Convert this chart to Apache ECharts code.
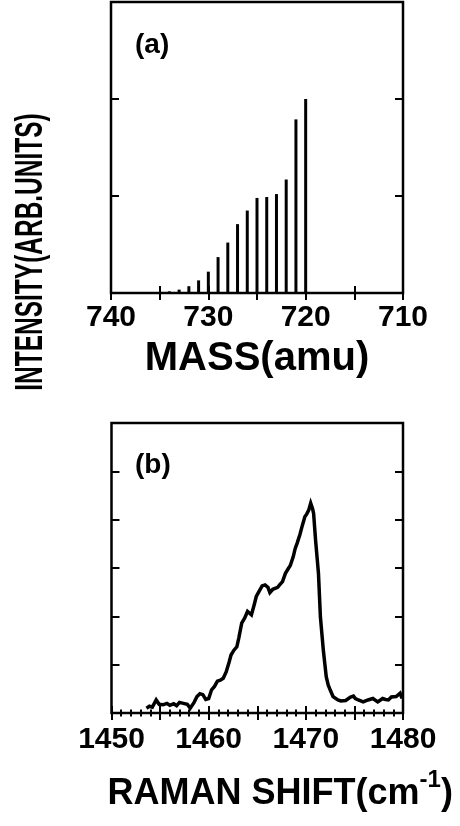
<!DOCTYPE html>
<html>
<head>
<meta charset="utf-8">
<script src="https://cdn.jsdelivr.net/npm/echarts@6.0.0/dist/echarts.min.js"></script>
<style>
html,body{margin:0;padding:0;background:#fff;}
#chart{width:460px;height:826px;}
</style>
</head>
<body>
<div id="chart"></div>
<script>
// ---- Data ----
// (a) mass spectrum
const massValues    = [720, 721, 722, 723, 724, 725, 726, 727, 728, 729, 730, 731, 732, 733, 734, 735];
const massIntensity = [2.00, 1.79, 1.17, 1.02, 0.99, 0.98, 0.85, 0.71, 0.52, 0.37, 0.22, 0.13, 0.07, 0.035, 0.017, 0.01];
const massTickLabels = [740, 730, 720, 710];

// (b) Raman spectrum
const ramanShift = [
  1453.6,1453.9,1454.2,1454.6,1454.9,1455.3,1455.7,1456.0,1456.4,1456.7,
  1457.0,1457.4,1457.8,1458.1,1458.5,1458.8,1459.1,1459.4,1459.7,1460.0,
  1460.3,1460.6,1460.9,1461.2,1461.5,1461.8,1462.1,1462.3,1462.6,1462.9,
  1463.1,1463.4,1463.7,1464.0,1464.2,1464.4,1464.7,1464.9,1465.2,1465.5,
  1465.8,1466.1,1466.3,1466.6,1466.8,1467.1,1467.3,1467.6,1467.9,1468.2,
  1468.4,1468.7,1468.9,1469.1,1469.4,1469.6,1469.9,1470.1,1470.3,1470.5,
  1470.7,1470.8,1471.0,1471.3,1471.5,1471.8,1472.1,1472.3,1472.5,1472.8,
  1473.0,1473.3,1473.6,1473.8,1474.1,1474.3,1474.6,1474.9,1475.1,1475.4,
  1475.6,1475.9,1476.1,1476.4,1476.6,1476.9,1477.1,1477.4,1477.6,1477.9,
  1478.2,1478.5,1478.8,1479.0,1479.3,1479.5,1479.7,1479.9
];
const ramanIntensity = [
  0.10,0.14,0.12,0.27,0.18,0.17,0.20,0.16,0.19,0.15,
  0.22,0.20,0.18,0.10,0.22,0.34,0.40,0.38,0.28,0.30,
  0.48,0.55,0.66,0.68,0.72,0.85,1.05,1.20,1.30,1.37,
  1.55,1.86,1.96,2.10,2.13,2.03,2.25,2.41,2.52,2.63,
  2.65,2.60,2.49,2.56,2.58,2.60,2.65,2.72,2.89,2.99,
  3.05,3.23,3.40,3.51,3.70,3.85,4.06,4.12,4.20,4.34,
  4.22,4.13,3.58,2.89,1.99,1.30,0.75,0.58,0.48,0.34,
  0.30,0.27,0.25,0.23,0.26,0.30,0.33,0.35,0.30,0.27,
  0.25,0.23,0.25,0.27,0.29,0.30,0.26,0.23,0.27,0.30,
  0.28,0.27,0.33,0.37,0.34,0.30,0.41,0.30
];
const ramanTickLabels = [1450, 1460, 1470, 1480];

// ---- Chart ----
const chart = echarts.init(document.getElementById('chart'), null, {renderer: 'canvas'});

const black = '#000';
const sans = '"Liberation Sans", Arial, Helvetica, sans-serif';

function tickStyle(len) {
  return {show: true, inside: true, length: len, lineStyle: {color: black, width: 2}};
}
const hiddenLabel = {show: false};
const noLine = {show: false};
const noSplit = {show: false};

const option = {
  animation: false,
  backgroundColor: '#fff',
  grid: [
    {left: 111, top: 2, width: 292, height: 291, show: true, borderColor: black, borderWidth: 2.5, backgroundColor: 'transparent'},
    {left: 111.5, top: 423, width: 291.5, height: 290, show: true, borderColor: black, borderWidth: 2.5, backgroundColor: 'transparent'}
  ],
  xAxis: [
    { // (a) bottom
      gridIndex: 0, type: 'value', min: 710, max: 740, interval: 5, inverse: true,
      axisLine: noLine, splitLine: noSplit, axisTick: tickStyle(7),
      axisLabel: {
        show: true, margin: 10, color: black, fontFamily: sans, fontWeight: 'bold', fontSize: 30,
        showMinLabel: true, showMaxLabel: true,
        formatter: v => massTickLabels.includes(v) ? String(v) : ''
      },
      name: 'MASS(amu)', nameLocation: 'middle', nameGap: 46,
      nameTextStyle: {color: black, fontFamily: sans, fontWeight: 'bold', fontSize: 40}
    },
    { // (a) top
      gridIndex: 0, type: 'value', min: 710, max: 740, interval: 5, inverse: true, position: 'top',
      axisLine: noLine, splitLine: noSplit, axisTick: tickStyle(7), axisLabel: hiddenLabel
    },
    { // (b) bottom
      gridIndex: 1, type: 'value', min: 1450, max: 1480, interval: 5,
      axisLine: noLine, splitLine: noSplit, axisTick: tickStyle(7),
      minorTick: {show: true, splitNumber: 5, length: 3.5, lineStyle: {color: black, width: 2}},
      minorSplitLine: {show: false},
      axisLabel: {
        show: true, margin: 12, color: black, fontFamily: sans, fontWeight: 'bold', fontSize: 30,
        showMinLabel: true, showMaxLabel: true,
        formatter: v => ramanTickLabels.includes(v) ? String(v) : ''
      },
      name: 'RAMAN SHIFT(cm{sup|-1})', nameLocation: 'middle', nameGap: 55,
      nameTextStyle: {
        color: black, fontFamily: sans, fontWeight: 'bold', fontSize: 36, lineHeight: 52,
        padding: [0, 0, 0, 46],
        rich: {
          sup: {color: black, fontFamily: sans, fontWeight: 'bold', fontSize: 24, lineHeight: 24, verticalAlign: 'top'}
        }
      }
    },
    { // (b) top
      gridIndex: 1, type: 'value', min: 1450, max: 1480, interval: 5, position: 'top',
      axisLine: noLine, splitLine: noSplit, axisTick: tickStyle(7),
      minorTick: {show: true, splitNumber: 5, length: 3.5, lineStyle: {color: black, width: 2}},
      minorSplitLine: {show: false},
      axisLabel: hiddenLabel
    }
  ],
  yAxis: [
    {gridIndex: 0, type: 'value', min: 0, max: 3, interval: 1,
     axisLine: noLine, splitLine: noSplit, axisTick: tickStyle(8), axisLabel: hiddenLabel},
    {gridIndex: 0, type: 'value', min: 0, max: 3, interval: 1, position: 'right',
     axisLine: noLine, splitLine: noSplit, axisTick: tickStyle(8), axisLabel: hiddenLabel},
    {gridIndex: 1, type: 'value', min: 0, max: 6, interval: 1,
     axisLine: noLine, splitLine: noSplit, axisTick: tickStyle(8), axisLabel: hiddenLabel},
    {gridIndex: 1, type: 'value', min: 0, max: 6, interval: 1, position: 'right',
     axisLine: noLine, splitLine: noSplit, axisTick: tickStyle(8), axisLabel: hiddenLabel}
  ],
  series: [
    {
      type: 'bar', xAxisIndex: 0, yAxisIndex: 0, barWidth: 3,
      itemStyle: {color: black},
      data: massValues.map((m, i) => [m, massIntensity[i]])
    },
    {
      type: 'line', xAxisIndex: 2, yAxisIndex: 2, showSymbol: false, symbol: 'none',
      lineStyle: {color: black, width: 3.5, join: 'miter'}, clip: true,
      data: ramanShift.map((x, i) => [x, ramanIntensity[i]])
    }
  ],
  graphic: [
    {type: 'text', x: 31, y: 252, rotation: Math.PI / 2, scaleX: 0.72, scaleY: 1.12,
     style: {text: 'INTENSITY(ARB.UNITS)', fill: black, fontFamily: sans, fontWeight: 'bold', fontSize: 34, align: 'center', verticalAlign: 'middle'}},
    {type: 'text', x: 135, y: 45,
     style: {text: '(a)', fill: black, fontFamily: sans, fontWeight: 'bold', fontSize: 28, align: 'left', verticalAlign: 'middle'}},
    {type: 'text', x: 135, y: 465,
     style: {text: '(b)', fill: black, fontFamily: sans, fontWeight: 'bold', fontSize: 28, align: 'left', verticalAlign: 'middle'}}
  ]
};
chart.setOption(option);
</script>
</body>
</html>
